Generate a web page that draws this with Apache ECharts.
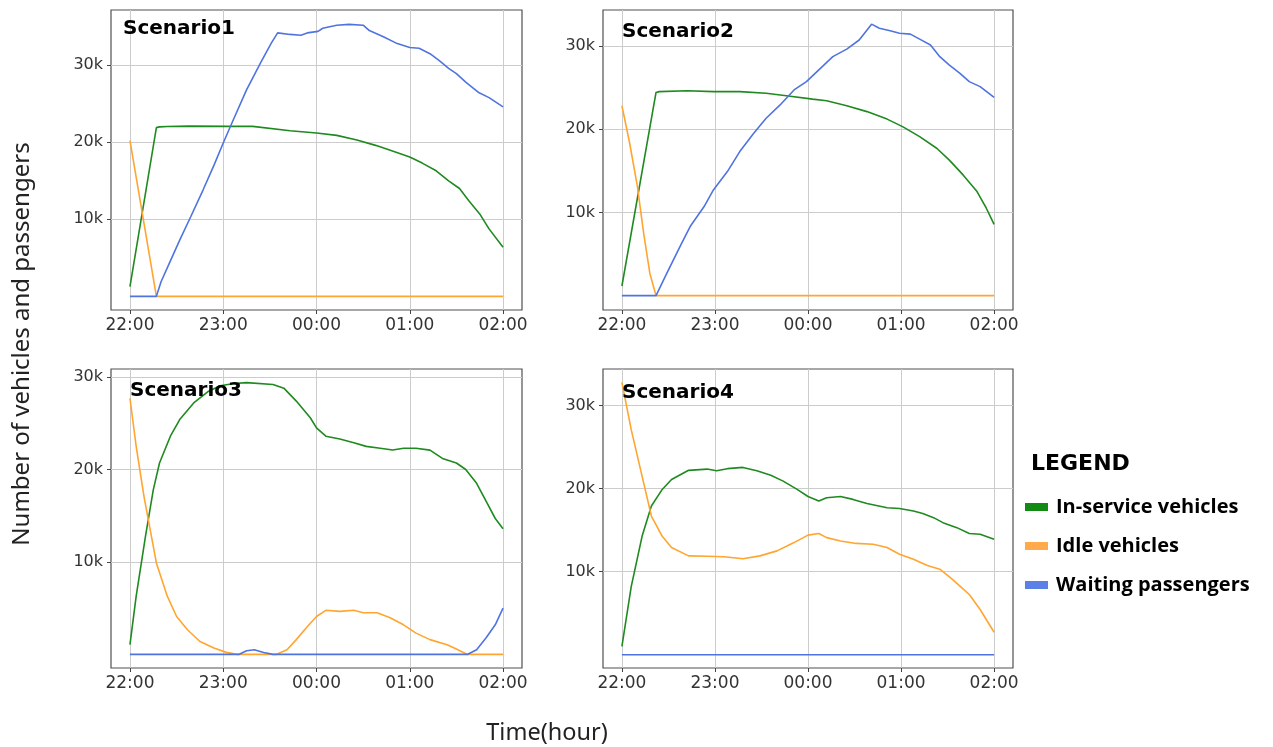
<!DOCTYPE html>
<html>
<head>
<meta charset="utf-8">
<script src="https://cdn.jsdelivr.net/npm/echarts@6.0.0/dist/echarts.min.js"></script>
<style>
  html, body { margin: 0; padding: 0; background: #fff; }
  #main { width: 1273px; height: 747px; }
</style>
</head>
<body>
<div id="main"></div>
<script>
// minutes after 22:00, value
const xTicks = [0, 60, 120, 180, 240];
const yTicks = [10000, 20000, 30000];
const seriesNames = ['In-service vehicles', 'Idle vehicles', 'Waiting passengers'];
const panelTitles = ['Scenario1', 'Scenario2', 'Scenario3', 'Scenario4'];

// Scenario1
const s1InService = [[0,1260],[17,21900],[19,22000],[24,22050],[38,22100],[64,22060],[79,22060],[103,21500],[120,21200],[133,20900],[146,20300],[158,19600],[167,19000],[180,18100],[188,17300],[197,16300],[205,15000],[212,14000],[218,12400],[225,10700],[231,8760],[240,6370]];
const s1Idle = [[0,20200],[17,0],[240,0]];
const s1Waiting = [[0,0],[17,0],[20,1900],[26,4600],[32,7300],[39,10300],[47,13800],[54,17000],[60,19900],[66,22700],[75,26800],[84,30300],[91,32900],[95,34200],[103,34000],[110,33900],[114,34200],[121,34400],[124,34800],[133,35200],[141,35300],[150,35200],[154,34500],[163,33700],[171,32900],[180,32300],[186,32200],[193,31500],[199,30600],[205,29600],[210,28900],[216,27800],[224,26500],[231,25800],[240,24600]];

// Scenario2
const s2InService = [[0,1160],[22,24400],[24,24500],[42,24600],[59,24500],[76,24500],[93,24300],[106,24000],[123,23600],[132,23400],[145,22800],[158,22100],[171,21200],[181,20300],[192,19100],[203,17700],[211,16300],[220,14500],[229,12500],[235,10500],[240,8560]];
const s2Idle = [[0,22800],[5,18300],[10,13100],[14,7500],[18,2700],[22,0],[240,0]];
const s2Waiting = [[0,0],[22,0],[29,2700],[38,6100],[44,8300],[53,10700],[59,12700],[68,14900],[76,17300],[85,19500],[93,21300],[102,22900],[111,24700],[119,25700],[128,27300],[136,28700],[145,29600],[153,30700],[161,32600],[166,32100],[173,31800],[179,31500],[186,31400],[192,30800],[199,30100],[205,28700],[211,27700],[218,26700],[224,25700],[231,25100],[240,23800]];

// Scenario3
const s3InService = [[0,1050],[4,6300],[10,12800],[15,17800],[19,20700],[26,23600],[32,25400],[41,27200],[50,28400],[58,29050],[67,29300],[75,29400],[92,29200],[99,28800],[107,27400],[116,25600],[120,24500],[126,23600],[135,23300],[144,22900],[152,22500],[161,22300],[169,22100],[176,22300],[184,22300],[193,22100],[201,21200],[210,20700],[216,20000],[223,18500],[229,16600],[235,14700],[240,13600]];
const s3Idle = [[0,27700],[4,22500],[9,17100],[13,13500],[17,9900],[24,6300],[30,4100],[37,2670],[45,1400],[54,690],[62,220],[69,0],[94,0],[101,500],[107,1600],[114,3000],[120,4100],[126,4770],[135,4650],[144,4770],[150,4500],[159,4500],[167,4000],[176,3200],[184,2300],[193,1600],[204,1050],[210,580],[217,0],[240,0]];
const s3Waiting = [[0,0],[70,0],[75,400],[80,500],[86,200],[92,0],[217,0],[223,500],[229,1770],[235,3200],[240,5000]];

// Scenario4
const s4InService = [[0,1000],[6,8200],[13,14250],[19,17900],[26,19900],[32,21100],[43,22200],[55,22350],[61,22150],[68,22400],[78,22550],[87,22150],[96,21600],[104,20900],[113,19900],[120,19050],[127,18500],[132,18900],[141,19050],[149,18700],[158,18200],[171,17700],[179,17600],[188,17300],[194,17000],[201,16500],[207,15900],[216,15300],[224,14600],[231,14500],[240,13900]];
const s4Idle = [[0,32800],[6,27100],[13,21500],[19,16700],[26,14250],[32,12900],[43,11900],[55,11850],[66,11800],[78,11560],[89,11900],[100,12500],[111,13500],[120,14400],[127,14600],[132,14100],[141,13700],[151,13400],[162,13300],[171,12900],[179,12100],[188,11500],[197,10750],[205,10300],[212,9260],[218,8260],[224,7250],[231,5440],[240,2700]];
const s4Waiting = [[0,0],[240,0]];

const panelData = [
    [s1InService, s1Idle, s1Waiting],
    [s2InService, s2Idle, s2Waiting],
    [s3InService, s3Idle, s3Waiting],
    [s4InService, s4Idle, s4Waiting]
];
const yRanges = [[-1770, 37170], [-1720, 34300], [-1470, 30870], [-1600, 34400]];

const lineColors = ['#1f8a1f', '#ffa530', '#4f74e0'];
const legendColors = ['#138a13', '#ffab4a', '#5b80e6'];

// grid boxes in pixels
const boxes = [
    {left: 111, top: 10, width: 411, height: 300},
    {left: 603, top: 10, width: 410, height: 300},
    {left: 111, top: 369, width: 411, height: 299},
    {left: 603, top: 369, width: 410, height: 299}
];
const titlePos = [[123, 19], [622, 22], [130, 381], [622, 383]];

const chart = echarts.init(document.getElementById('main'));

const grid = boxes.map(b => Object.assign({
    show: true, borderColor: '#505050', borderWidth: 1.2,
    outerBoundsMode: 'none', containLabel: false
}, b));

const xAxis = boxes.map((b, i) => ({
    type: 'value', gridIndex: i, min: -12.2, max: 252.2,
    axisLine: {show: false, onZero: false},
    axisTick: {show: true, customValues: xTicks, length: 4, lineStyle: {color: '#444'}},
    axisLabel: {
        customValues: xTicks, margin: 7, fontSize: 17, color: '#333',
        fontFamily: 'DejaVu Sans',
        formatter: v => String((22 + Math.round(v / 60)) % 24).padStart(2, '0') + ':00'
    },
    splitLine: {show: true, lineStyle: {color: '#cccccc', width: 1}}
}));

const yAxis = boxes.map((b, i) => ({
    type: 'value', gridIndex: i, min: yRanges[i][0], max: yRanges[i][1],
    axisLine: {show: false, onZero: false},
    axisTick: {show: true, customValues: yTicks, length: 4, lineStyle: {color: '#444'}},
    axisLabel: {
        customValues: yTicks, margin: 8, fontSize: 16, color: '#333',
        fontFamily: 'DejaVu Sans',
        formatter: v => (v / 1000) + 'k'
    },
    splitLine: {show: true, lineStyle: {color: '#cccccc', width: 1}}
}));

const series = [];
panelData.forEach((lines, i) => {
    lines.forEach((d, k) => {
        series.push({
            name: seriesNames[k], type: 'line', xAxisIndex: i, yAxisIndex: i,
            data: d, showSymbol: false, symbol: 'none', smooth: false,
            itemStyle: {color: legendColors[k]},
            lineStyle: {color: lineColors[k], width: 1.6},
            emphasis: {disabled: true}, z: 2 + k
        });
    });
});

const title = panelTitles.map((t, i) => ({
    text: t, left: titlePos[i][0], top: titlePos[i][1], padding: 0,
    textStyle: {fontFamily: 'DejaVu Sans', fontWeight: 'bold', fontSize: 20, color: '#000'}
}));
title.push({
    text: 'LEGEND', left: 1031, top: 453, padding: 0,
    textStyle: {fontFamily: 'DejaVu Sans', fontWeight: 'bold', fontSize: 22, color: '#000'}
});

const option = {
    animation: false,
    backgroundColor: '#fff',
    title: title,
    grid: grid,
    xAxis: xAxis,
    yAxis: yAxis,
    legend: {
        data: seriesNames, orient: 'vertical', left: 1025, top: 497, padding: 0,
        icon: 'rect', itemWidth: 23, itemHeight: 8, itemGap: 19,
        textStyle: {fontFamily: 'Open Sans', fontWeight: 'bold', fontSize: 20, color: '#000', padding: [0, 0, 0, 3]},
        selectedMode: false
    },
    graphic: [
        {
            type: 'text', x: 22, y: 344, rotation: Math.PI / 2,
            style: {text: 'Number of vehicles and passengers', fontFamily: 'Noto Sans', fontSize: 24,
                fill: '#222', textAlign: 'center', textVerticalAlign: 'middle'}
        },
        {
            type: 'text', x: 547, y: 733,
            style: {text: 'Time(hour)', fontFamily: 'Noto Sans', fontSize: 23.5,
                fill: '#222', textAlign: 'center', textVerticalAlign: 'middle'}
        }
    ],
    series: series
};
chart.setOption(option);
</script>
</body>
</html>
